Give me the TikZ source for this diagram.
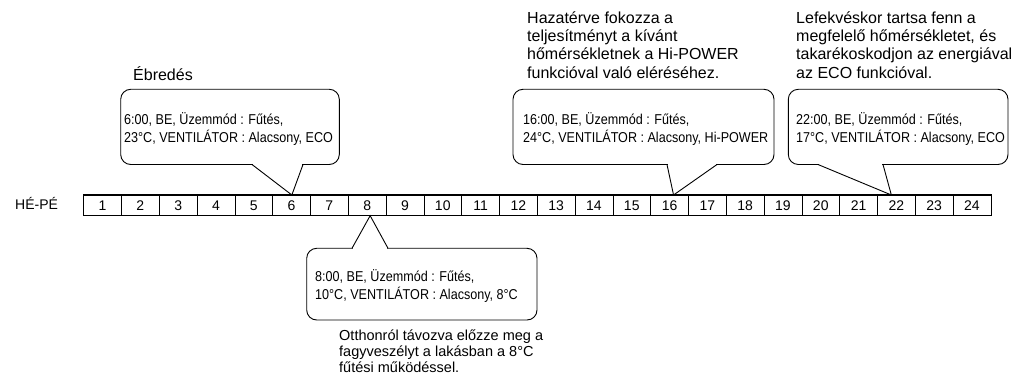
\documentclass[tikz,border=0pt]{standalone}
\usepackage{fontspec}
\setmainfont{Liberation Sans}
\newfontfamily\narrowfont{Liberation Sans}[FakeStretch=0.88]
\usetikzlibrary{calc}
\tikzset{
  cell/.style={draw, line width=0.7pt, minimum width=37.8pt, minimum height=20pt,
    inner sep=0pt, anchor=north west, font=\fontsize{14}{14}\selectfont},
  boxtxt/.style={anchor=base west, align=left, inner sep=0pt,
    font=\narrowfont\fontsize{14.3}{18.4}\selectfont},
  note/.style={anchor=base west, align=left, inner sep=0pt,
    font=\fontsize{16}{18.3}\selectfont},
  bubble/.style={draw, line width=0.9pt, rounded corners=10pt, fill=white},
  ptr/.style={draw, line width=0.9pt, line join=miter},
}
\begin{document}
\begin{tikzpicture}[x=1pt, y=-1pt]
\useasboundingbox (0,0) rectangle (1018,379);

% time line
\node[anchor=base west, inner sep=0pt, font=\fontsize{14}{14}\selectfont] (day) at (15,210) {HÉ-PÉ};
\foreach \i in {1,...,24}
  \node[cell] (c\i) at ({83.3+(\i-1)*37.8},195) {\i};
\draw[line width=1.3pt] (c1.north west) rectangle (c24.south east);

% tips
\coordinate (p6)  at ($(c6.north)+(0.3,0)$);
\coordinate (p16) at ($(c16.north)+(4,0)$);
\coordinate (p22) at ($(c22.north)+(-5,0)$);
\coordinate (p8)  at ($(c8.south)+(3,0)$);

% callout 6:00
\draw[bubble] (120.7,89.3) rectangle (339.3,164.5);
\fill[white] (252.8,162.5) rectangle (302.2,166.5);
\draw[ptr] (252,164.5) -- (p6) -- (303,164.5);
\node[boxtxt] (t6) at (124,142.7) {6:00, BE, Üzemmód : Fűtés,\\23°C, VENTILÁTOR : Alacsony, ECO};

% callout 16:00
\draw[bubble] (513,89.3) rectangle (774,164.5);
\fill[white] (667.8,162.5) rectangle (716.2,166.5);
\draw[ptr] (667,164.5) -- (p16) -- (717,164.5);
\node[boxtxt] (t16) at (523,143) {16:00, BE, Üzemmód : Fűtés,\\24°C, VENTILÁTOR : Alacsony, Hi-POWER};

% callout 22:00
\draw[bubble] (788.3,89.3) rectangle (1008,164.5);
\fill[white] (818.8,162.5) rectangle (882.2,166.5);
\draw[ptr] (818,164.5) -- (p22) -- (883,164.5);
\node[boxtxt] (t22) at (796,143) {22:00, BE, Üzemmód : Fűtés,\\17°C, VENTILÁTOR : Alacsony, ECO};

% callout 8:00
\draw[bubble] (306.7,248.3) rectangle (537,320);
\fill[white] (352.8,246.3) rectangle (387.2,250.3);
\draw[ptr] (352,248.3) -- (p8) -- (388,248.3);
\node[boxtxt] (t8) at (315,300) {8:00, BE, Üzemmód : Fűtés,\\10°C, VENTILÁTOR : Alacsony, 8°C};

% notes
\node[note] (n6) at (133,81) {Ébredés};
\node[note] (n16) at (527,78.3) {Hazatérve fokozza a\\teljesítményt a kívánt\\hőmérsékletnek a Hi-POWER\\funkcióval való eléréséhez.};
\node[note] (n22) at (796,78.3) {Lefekvéskor tartsa fenn a\\megfelelő hőmérsékletet, és\\takarékoskodjon az energiával\\az ECO funkcióval.};
\node[note, font=\fontsize{14.5}{16.2}\selectfont] (n8) at (339,372.7) {Otthonról távozva előzze meg a\\fagyveszélyt a lakásban a 8°C\\fűtési működéssel.};
\end{tikzpicture}
\end{document}
